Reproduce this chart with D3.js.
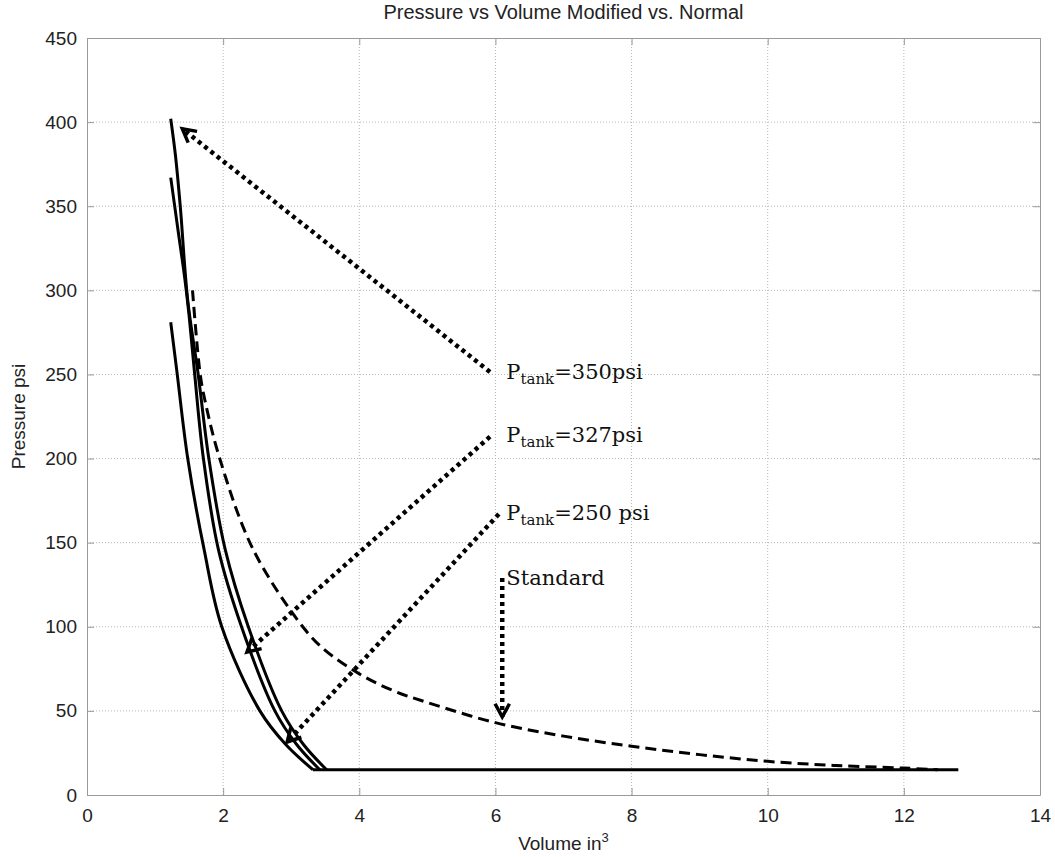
<!DOCTYPE html>
<html>
<head>
<meta charset="utf-8">
<script src="https://cdn.jsdelivr.net/npm/d3@7"></script>
<style>
  body { margin: 0; background: #fff; }
</style>
</head>
<body>
<div id="container"></div>
<script>
// tick labels
const xTicks = [0, 2, 4, 6, 8, 10, 12, 14];
const yTicks = [0, 50, 100, 150, 200, 250, 300, 350, 400, 450];

// P_tank = 350 psi
const volA  = [1.23, 1.30, 1.37, 1.48, 1.63, 1.79, 2.03, 2.37, 2.86, 3.18, 3.52];
const presA = [402, 380, 350, 294, 251, 200, 146, 100, 50, 30, 15];
// P_tank = 327 psi
const volB  = [1.23, 1.34, 1.44, 1.50, 1.58, 1.71, 1.93, 2.27, 2.76, 3.08, 3.42];
const presB = [367, 335, 306, 285, 251, 200, 146, 100, 50, 30, 15];
// P_tank = 250 psi
const volC  = [1.23, 1.32, 1.48, 1.72, 1.98, 2.54, 2.92, 3.32];
const presC = [281, 252, 200, 146, 100, 50, 30, 15];
// standard (dashed)
const volStd  = [1.55, 1.66, 1.73, 1.95, 2.44, 3.17, 3.5, 4.0, 4.5, 5.0, 6.0, 7.0, 8.0, 9.0, 10.0, 11.0, 12.0, 12.5];
const presStd = [300, 251, 235, 200, 146, 100, 86, 72, 62, 55, 43, 35, 29, 24, 20, 17.5, 16, 15];
// floor line
const volFlat  = [3.32, 12.8];
const presFlat = [15, 15];

// annotations
const labelNames = ["=350psi", "=327psi", "=250 psi", "Standard"];
const labelX = [6.16, 6.16, 6.16, 6.16];
const labelY = [247.3, 209.9, 163.5, 124.9];
const arrowFromX = [5.92, 5.92, 6.05, 6.1];
const arrowFromY = [251.5, 213, 167, 129];
const arrowToX = [1.40, 2.35, 2.94, 6.1];
const arrowToY = [396, 85, 31.5, 46.4];

const WIDTH = 1055, HEIGHT = 857;
const margin = {top: 38, right: 15, bottom: 62, left: 87};
const w = WIDTH - margin.left - margin.right;
const h = HEIGHT - margin.top - margin.bottom;

const svg = d3.select("#container")
  .append("svg")
  .attr("width", WIDTH)
  .attr("height", HEIGHT);

const g = svg.append("g")
  .attr("transform", `translate(${margin.left},${margin.top})`);

const x = d3.scaleLinear().domain([0, 14]).range([0, w]);
const y = d3.scaleLinear().domain([0, 450]).range([h, 0]);

// grid
g.selectAll(".vgrid")
  .data(xTicks.slice(1, -1))
  .enter()
  .append("line")
  .attr("x1", d => x(d)).attr("x2", d => x(d))
  .attr("y1", 0).attr("y2", h)
  .attr("stroke", "#b5b5b5")
  .attr("stroke-dasharray", "1,2");
g.selectAll(".hgrid")
  .data(yTicks.slice(1, -1))
  .enter()
  .append("line")
  .attr("y1", d => y(d)).attr("y2", d => y(d))
  .attr("x1", 0).attr("x2", w)
  .attr("stroke", "#b5b5b5")
  .attr("stroke-dasharray", "1,2");

// axes
const font = "'Liberation Sans', Arial, sans-serif";
const xAxis = g.append("g")
  .attr("transform", `translate(0,${h})`)
  .call(d3.axisBottom(x).tickValues(xTicks).tickSize(-7).tickPadding(10).tickSizeOuter(0));
const yAxis = g.append("g")
  .call(d3.axisLeft(y).tickValues(yTicks).tickSize(-7).tickPadding(10).tickSizeOuter(0));
g.append("g")
  .call(d3.axisTop(x).tickValues(xTicks).tickSize(-7).tickFormat("").tickSizeOuter(0));
g.append("g")
  .attr("transform", `translate(${w},0)`)
  .call(d3.axisRight(y).tickValues(yTicks).tickSize(-7).tickFormat("").tickSizeOuter(0));

g.selectAll(".domain, .tick line").attr("stroke", "#9a9a9a");
g.selectAll(".tick text")
  .attr("font-family", font)
  .attr("font-size", 19)
  .attr("fill", "#222");
xAxis.selectAll(".tick text").attr("dy", "0.9em");

// titles
svg.append("text")
  .attr("x", margin.left + w / 2)
  .attr("y", 19)
  .attr("text-anchor", "middle")
  .attr("font-family", font)
  .attr("font-size", 20)
  .attr("fill", "#222")
  .text("Pressure vs Volume Modified vs. Normal");

const xl = svg.append("text")
  .attr("x", margin.left + w / 2)
  .attr("y", 850)
  .attr("text-anchor", "middle")
  .attr("font-family", font)
  .attr("font-size", 19)
  .attr("fill", "#222");
xl.append("tspan").text("Volume in");
xl.append("tspan").attr("dy", -8).attr("font-size", 13).text("3");

svg.append("text")
  .attr("transform", `translate(25,${margin.top + h / 2}) rotate(-90)`)
  .attr("text-anchor", "middle")
  .attr("font-family", font)
  .attr("font-size", 19)
  .attr("fill", "#222")
  .text("Pressure psi");

// curves
const line = d3.line()
  .x(d => x(d[0]))
  .y(d => y(d[1]))
  .curve(d3.curveCatmullRom.alpha(0.5));

const solid = [d3.zip(volA, presA), d3.zip(volB, presB), d3.zip(volC, presC), d3.zip(volFlat, presFlat)];

g.selectAll(".curve")
  .data(solid)
  .enter()
  .append("path")
  .attr("d", line)
  .attr("fill", "none")
  .attr("stroke", "#000")
  .attr("stroke-width", 3);

g.append("path")
  .attr("d", line(d3.zip(volStd, presStd)))
  .attr("fill", "none")
  .attr("stroke", "#000")
  .attr("stroke-width", 3)
  .attr("stroke-dasharray", "11,6");

// dotted arrows
const arrows = d3.range(arrowFromX.length).map(i => ({
  x0: x(arrowFromX[i]), y0: y(arrowFromY[i]),
  x1: x(arrowToX[i]), y1: y(arrowToY[i])
}));

g.selectAll(".arrow")
  .data(arrows)
  .enter()
  .append("line")
  .attr("x1", d => d.x0).attr("y1", d => d.y0)
  .attr("x2", d => d.x1).attr("y2", d => d.y1)
  .attr("stroke", "#000")
  .attr("stroke-width", 4.5)
  .attr("stroke-dasharray", "4,4");

g.selectAll(".head")
  .data(arrows)
  .enter()
  .append("path")
  .attr("d", d => {
    const a = Math.atan2(d.y0 - d.y1, d.x0 - d.x1);
    const L = 15, s = 0.5;
    const p1 = [d.x1 + L * Math.cos(a + s), d.y1 + L * Math.sin(a + s)];
    const p2 = [d.x1 + L * Math.cos(a - s), d.y1 + L * Math.sin(a - s)];
    return `M${p1}L${d.x1},${d.y1}L${p2}`;
  })
  .attr("fill", "none")
  .attr("stroke", "#000")
  .attr("stroke-width", 3.5);

// labels
const serif = "'DejaVu Serif', 'Liberation Serif', serif";
labelNames.forEach((name, i) => {
  const t = g.append("text")
    .attr("x", x(labelX[i]))
    .attr("y", y(labelY[i]))
    .attr("font-family", serif)
    .attr("font-size", 21)
    .attr("fill", "#111");
  if (name === "Standard") {
    t.text(name);
  } else {
    t.append("tspan").text("P");
    t.append("tspan").attr("dy", 5).attr("font-size", 15).text("tank");
    t.append("tspan").attr("dy", -5).text(name);
  }
});
</script>
</body>
</html>
